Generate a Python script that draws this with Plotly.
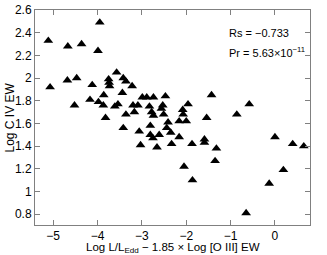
import plotly.graph_objects as go

x_vals = [-5.11, -5.07, -4.67, -4.36, -3.95, -3.99, -4.68, -4.47, -4.52, -4.12,
          -4.17, -3.98, -3.86, -3.87, -3.82, -3.75, -3.74, -3.73, -3.57, -3.61,
          -3.54, -3.42, -3.36, -3.22, -3.44, -2.99, -2.89, -2.74, -2.47, -3.20,
          -3.09, -2.83, -2.53, -2.56, -3.36, -3.17, -2.78, -2.74, -2.51, -2.41,
          -2.44, -2.35, -2.16, -2.00, -2.08, -2.07, -1.96, -1.43, -1.54, -0.86,
          -0.58, -3.42, -3.06, -2.81, -2.81, -2.75, -2.61, -3.03, -2.66, -2.33,
          -2.16, -1.87, -1.59, -1.59, -1.32, -1.35, -2.05, -1.86, 0.00, 0.40,
          0.65, 0.19, -0.13, -0.65]
y_vals = [2.33, 1.92, 2.28, 2.30, 2.49, 2.24, 1.98, 2.00, 1.76, 1.94,
          1.81, 1.79, 1.85, 1.76, 1.65, 1.99, 1.96, 1.93, 2.05, 1.75,
          1.77, 2.00, 1.97, 1.93, 1.87, 1.83, 1.83, 1.83, 1.84, 1.76,
          1.76, 1.75, 1.76, 1.73, 1.68, 1.70, 1.70, 1.67, 1.68, 1.61,
          1.56, 1.52, 1.62, 1.62, 1.72, 1.68, 1.77, 1.85, 1.65, 1.68,
          1.77, 1.56, 1.53, 1.58, 1.50, 1.47, 1.50, 1.41, 1.39, 1.42,
          1.48, 1.42, 1.46, 1.43, 1.38, 1.27, 1.22, 1.10, 1.48, 1.42,
          1.40, 1.19, 1.07, 0.81]

x_ticks = [-5, -4, -3, -2, -1, 0]
y_ticks = [0.8, 1.0, 1.2, 1.4, 1.6, 1.8, 2.0, 2.2, 2.4, 2.6]
y_tick_text = ["0.8", "1", "1.2", "1.4", "1.6", "1.8", "2", "2.2", "2.4", "2.6"]

FONT = "Liberation Sans, Arial"
PLOT_H = 215
PLOT_W = 275

fig = go.Figure()
fig.add_trace(go.Scatter(
    x=x_vals, y=y_vals, mode="markers",
    marker=dict(symbol="triangle-up", size=8.5, color="black"),
    showlegend=False, hoverinfo="skip",
))

axis_common = dict(
    showline=True, linecolor="#808080", linewidth=1, mirror="ticks",
    ticks="inside", ticklen=5, tickcolor="#808080", showgrid=False, zeroline=False,
    automargin=False,
    tickfont=dict(family=FONT, size=12, color="black"),
)

fig.update_xaxes(range=[-5.41, 0.79], tickvals=x_ticks, **axis_common)
fig.update_yaxes(range=[0.705, 2.6], tickvals=y_ticks, ticktext=y_tick_text, **axis_common)

fig.add_annotation(xref="paper", yref="paper", x=0.5, y=-(248 - 225) / PLOT_H,
                   text="Log L/L<sub>Edd</sub> − 1.85 × Log [O III] EW", showarrow=False,
                   xanchor="center", yanchor="middle",
                   font=dict(family=FONT, size=11.5, color="black"))
fig.add_annotation(xref="paper", yref="paper", x=-(35 - 9) / PLOT_W, y=0.5,
                   text="Log C IV EW", showarrow=False, textangle=-90,
                   xanchor="center", yanchor="middle",
                   font=dict(family=FONT, size=12, color="black"))

fig.add_annotation(xref="paper", yref="paper", x=0.698, y=(225 - 33) / PLOT_H,
                   text="Rs = −0.733", showarrow=False, xanchor="left", yanchor="middle",
                   font=dict(family=FONT, size=11, color="black"))
fig.add_annotation(xref="paper", yref="paper", x=0.698, y=(225 - 52) / PLOT_H,
                   text="Pr = 5.63×10<sup>−11</sup>", showarrow=False, xanchor="left", yanchor="middle",
                   font=dict(family=FONT, size=11, color="black"))

fig.update_layout(
    width=327, height=255,
    margin=dict(l=35, r=17, t=10, b=30),
    plot_bgcolor="white", paper_bgcolor="white",
    hovermode=False,
)

fig.write_html("out.html", config={"displayModeBar": False},
               post_script="document.body.style.margin='0';")
